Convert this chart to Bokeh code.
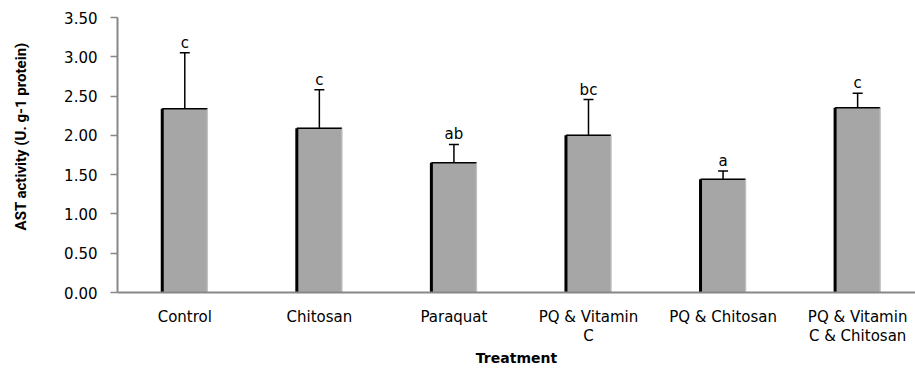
from bokeh.plotting import figure
from bokeh.models import (ColumnDataSource, Range1d, FixedTicker, NumeralTickFormatter,
                          Whisker, TeeHead)
from bokeh.core.properties import value
from bokeh.embed import file_html
from bokeh.resources import INLINE

categories = ["Control", "Chitosan", "Paraquat", "PQ & Vitamin\nC", "PQ & Chitosan", "PQ & Vitamin\nC & Chitosan"]
means = [2.34, 2.09, 1.65, 2.00, 1.44, 2.35]
errors = [0.71, 0.49, 0.235, 0.455, 0.105, 0.185]
letters = ["c", "c", "ab", "bc", "a", "c"]
y_ticks = [0.0, 0.5, 1.0, 1.5, 2.0, 2.5, 3.0, 3.5]

xs = list(range(len(categories)))
bw = 0.335
src = ColumnDataSource(dict(
    x=xs, top=means,
    upper=[m + e for m, e in zip(means, errors)],
    lower=[m - e for m, e in zip(means, errors)],
    left=[x - bw / 2 for x in xs],
    right=[x + bw / 2 for x in xs],
    zero=[0] * len(xs),
    lab=letters,
))

p = figure(width=915, height=369, output_backend="svg", toolbar_location=None,
           x_range=Range1d(-0.5, 5.43), y_range=Range1d(0, 3.5),
           min_border_left=117, min_border_top=17, min_border_bottom=76, min_border_right=0)
p.outline_line_color = None
p.xgrid.grid_line_color = None
p.ygrid.grid_line_color = None

axis_col = "#878787"
font = "DejaVu Sans"

# x axis
p.xaxis.ticker = FixedTicker(ticks=xs)
p.xaxis.major_label_overrides = {i: c for i, c in enumerate(categories)}
p.xaxis.major_tick_line_color = None
p.xaxis.minor_tick_line_color = None
p.xaxis.axis_line_color = axis_col
p.xaxis.axis_line_width = 2
p.xaxis.major_label_text_font = font
p.xaxis.major_label_text_font_size = "15px"
p.xaxis.major_label_text_color = "#000000"
p.xaxis.major_label_standoff = 9
p.xaxis.major_label_text_line_height = 1.1
p.xaxis.axis_label = "Treatment"
p.xaxis.axis_label_text_font = font
p.xaxis.axis_label_text_font_style = "bold"
p.xaxis.axis_label_text_font_size = "14px"
p.xaxis.axis_label_text_color = "#000000"
p.xaxis.axis_label_standoff = 2

# y axis
p.yaxis.ticker = FixedTicker(ticks=y_ticks)
p.yaxis.formatter = NumeralTickFormatter(format="0.00")
p.yaxis.axis_line_color = axis_col
p.yaxis.axis_line_width = 2
p.yaxis.major_tick_line_color = axis_col
p.yaxis.major_tick_line_width = 1.5
p.yaxis.major_tick_out = 7
p.yaxis.major_tick_in = 0
p.yaxis.minor_tick_line_color = None
p.yaxis.major_label_text_font = font
p.yaxis.major_label_text_font_size = "15px"
p.yaxis.major_label_text_color = "#000000"
p.yaxis.major_label_standoff = 13
# leading no-break spaces lift the centred title to where the reference has it
p.yaxis.axis_label = "\u00a0" * 10 + "AST activity (U. g-1 protein)"
p.yaxis.axis_label_text_font = "Roboto"
p.yaxis.axis_label_text_font_style = "bold"
p.yaxis.axis_label_text_font_size = "15px"
p.yaxis.axis_label_text_color = "#000000"
p.yaxis.axis_label_standoff = 31

# bars
p.quad(left="left", right="right", bottom="zero", top="top", source=src,
       fill_color="#a6a6a6", line_color="#b5b5b5", line_width=1)
p.segment(x0="left", y0="zero", x1="left", y1="top", source=src, line_color="#000000", line_width=3)
p.segment(x0="left", y0="top", x1="right", y1="top", source=src, line_color="#000000", line_width=1.5)
p.segment(x0="right", y0="zero", x1="right", y1="top", source=src, line_color="#c8c8c8",
          line_width=1.5, line_dash="1 1")

# error bars
w = Whisker(source=src, base="x", upper="upper", lower="lower",
            line_color="#000000", line_width=1.5,
            upper_head=TeeHead(size=10, line_color="#000000", line_width=1.5),
            lower_head=TeeHead(size=10, line_color="#000000", line_width=1.5))
p.add_layout(w)

# significance letters
p.text(x="x", y="upper", text="lab", source=src, text_align="center", text_baseline="bottom",
       y_offset=-1, text_font=value(font), text_font_size="15px", text_color="#000000")

open("out.html", "w").write(file_html(p, INLINE))
